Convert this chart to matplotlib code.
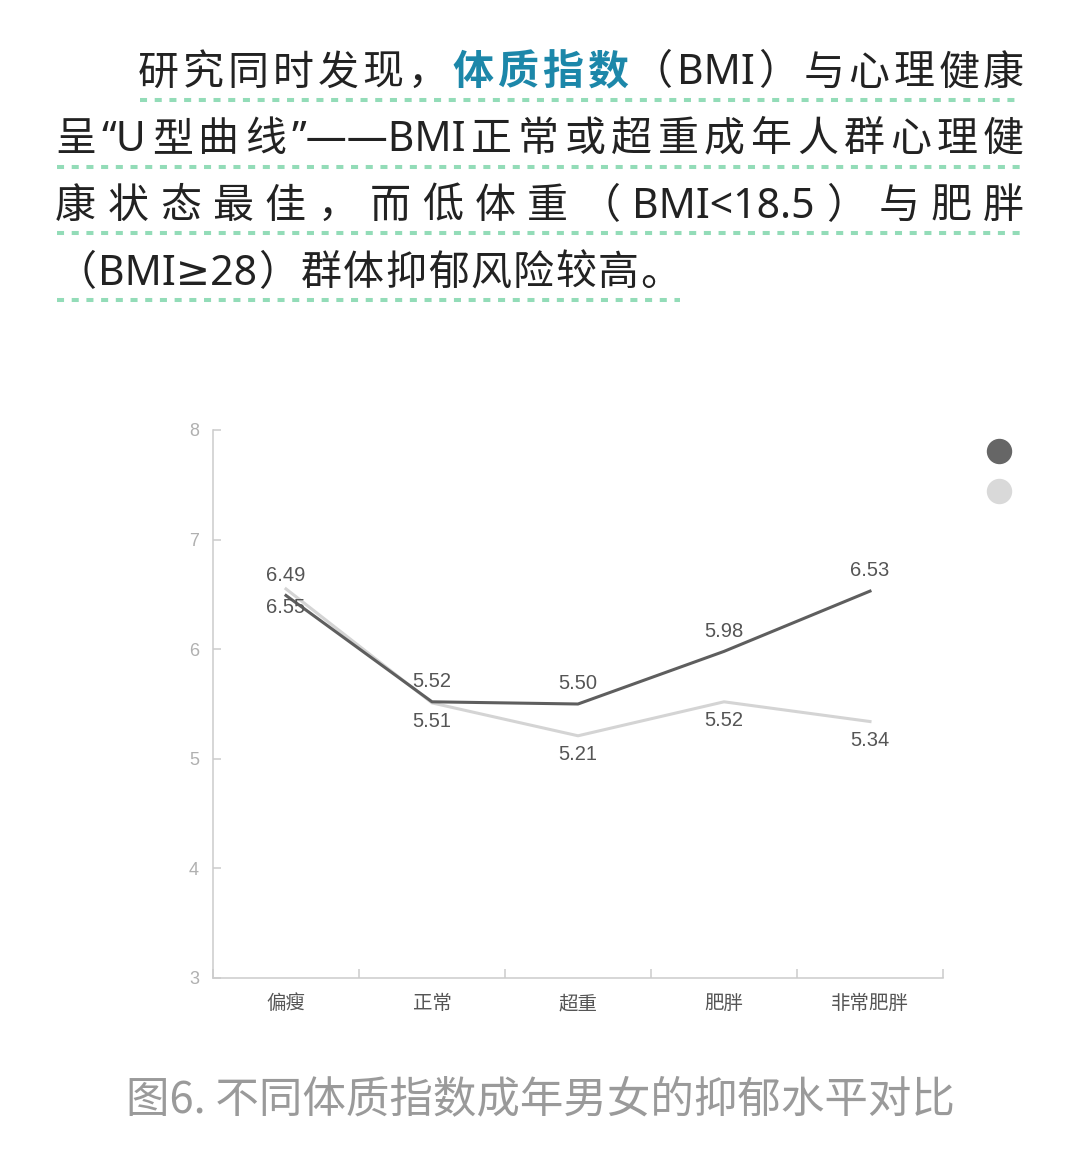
import matplotlib
matplotlib.use("Agg")
import matplotlib.pyplot as plt
from matplotlib.lines import Line2D

# chart data
categories = ["偏瘦", "正常", "超重", "肥胖", "非常肥胖"]
male = [6.49, 5.52, 5.50, 5.98, 6.53]
female = [6.55, 5.51, 5.21, 5.52, 5.34]
series_names = ["男", "女"]
y_ticks = [3, 4, 5, 6, 7, 8]

# paragraph above the chart
para_lines = [
    "研究同时发现，体质指数（BMI）与心理健康",
    "呈“U型曲线”——BMI正常或超重成年人群心理健",
    "康状态最佳，而低体重（BMI<18.5）与肥胖",
    "（BMI≥28）群体抑郁风险较高。",
]
highlight = "体质指数"
caption = "图6. 不同体质指数成年男女的抑郁水平对比"

plt.rcParams["font.family"] = ["Noto Sans CJK SC", "DejaVu Sans"]

W, H = 1080, 1167
fig = plt.figure(figsize=(W / 100, H / 100), dpi=100)
r = fig.canvas.get_renderer()


def fx(x):
    return x / W


def fy(y):
    return 1 - y / H


def is_wide(ch):
    return "\u4e00" <= ch <= "\u9fff" or ch in "，。（）"


def split_tokens(s):
    out = []
    buf = ""
    start = 0
    for i, ch in enumerate(s):
        if is_wide(ch):
            if buf:
                out.append((buf, start))
                buf = ""
            out.append((ch, i))
        else:
            if not buf:
                start = i
            buf += ch
    if buf:
        out.append((buf, start))
    return out


EM = 41.0
FS = EM * 0.72


def draw_line(s, x0, x1, base, spacing=1.5):
    hl0 = s.find(highlight)
    toks = split_tokens(s)
    arts, cells = [], []
    for tok, i0 in toks:
        hot = hl0 >= 0 and hl0 <= i0 < hl0 + len(highlight)
        wide = len(tok) == 1 and is_wide(tok)
        fam = ["Noto Sans CJK SC", "DejaVu Sans"] if wide else ["Noto Sans", "DejaVu Sans"]
        t = fig.text(0, fy(base), tok, fontsize=FS, ha="center", va="baseline",
                     family=fam, color="#1c87a9" if hot else "#222222",
                     weight="bold" if hot else "medium")
        w = EM if wide else t.get_window_extent(r).width
        arts.append(t)
        cells.append(w)
    if x1 is None:
        gap = spacing
    else:
        gap = (x1 - x0 - sum(cells)) / (len(cells) - 1)
    x = x0
    for t, w in zip(arts, cells):
        t.set_x(fx(x + w / 2))
        x += w + gap


def underline(x0, x1, y):
    fig.add_artist(Line2D([fx(x0), fx(x1)], [fy(y), fy(y)], transform=fig.transFigure,
                          color="#93dcb8", lw=2.9, linestyle=(0, (1.75, 1.9))))


line_box = [(138, 1024), (55, 1024), (55, 1024), (55, None)]
under_box = [(140, 1022), (57, 1022), (57, 1022), (57, 680)]
for k, s in enumerate(para_lines):
    base = 84.5 + k * 66.7
    draw_line(s, line_box[k][0], line_box[k][1], base)
    underline(under_box[k][0], under_box[k][1], 100 + k * 66.7)

# chart
ax = fig.add_axes([fx(213), fy(978), (943 - 213) / W, (978 - 430) / H])
x = list(range(len(categories)))
ax.plot(x, female, color="#d4d4d4", lw=2.2, label=series_names[1], zorder=2)
ax.plot(x, male, color="#5e5e5e", lw=2.2, label=series_names[0], zorder=3)

for i in x:
    ax.annotate(f"{male[i]:.2f}", (i, male[i]), xytext=(0, 14.5), textcoords="offset points",
                ha="center", va="center", fontsize=14.5, color="#555555", family="Liberation Sans")
    ax.annotate(f"{female[i]:.2f}", (i, female[i]), xytext=(0, -13.5), textcoords="offset points",
                ha="center", va="center", fontsize=14.5, color="#555555", family="Liberation Sans")

ax.set_xlim(-0.5, len(categories) - 0.5)
ax.set_ylim(y_ticks[0], y_ticks[-1])
ax.set_yticks(y_ticks)
ax.set_xticks(x)
ax.set_xticklabels(categories)
ax.set_xticks([i - 0.5 for i in range(len(categories) + 1)], minor=True)

for sp in ["top", "right"]:
    ax.spines[sp].set_visible(False)
for sp in ["left", "bottom"]:
    ax.spines[sp].set_color("#cccccc")
    ax.spines[sp].set_linewidth(1.1)

ax.tick_params(axis="y", direction="in", length=5.8, width=1.1, color="#cccccc",
               labelsize=13, labelcolor="#b0b0b0", pad=10)
ax.tick_params(axis="x", which="major", length=0, labelsize=14, labelcolor="#555555", pad=11)
ax.tick_params(axis="x", which="minor", direction="in", length=6.5, width=1.1, color="#cccccc")
for lab in ax.get_yticklabels():
    lab.set_family("Liberation Sans")

# legend dots (labels not shown in the picture)
for k, c in enumerate(["#666666", "#d9d9d9"]):
    ax.scatter([1.0767], [0.9617 - k * 0.073], s=(24 * 0.72) ** 2, color=c,
               transform=ax.transAxes, clip_on=False, zorder=5)

cap = fig.text(fx(540), fy(1100), caption, ha="center", va="center", fontsize=31.5,
               color="#9a9a9a", style="italic")
cw = cap.get_window_extent(r).width
cap.set_fontsize(31.5 * 830 / cw)

fig.savefig("out.png", dpi=100, facecolor="white")
